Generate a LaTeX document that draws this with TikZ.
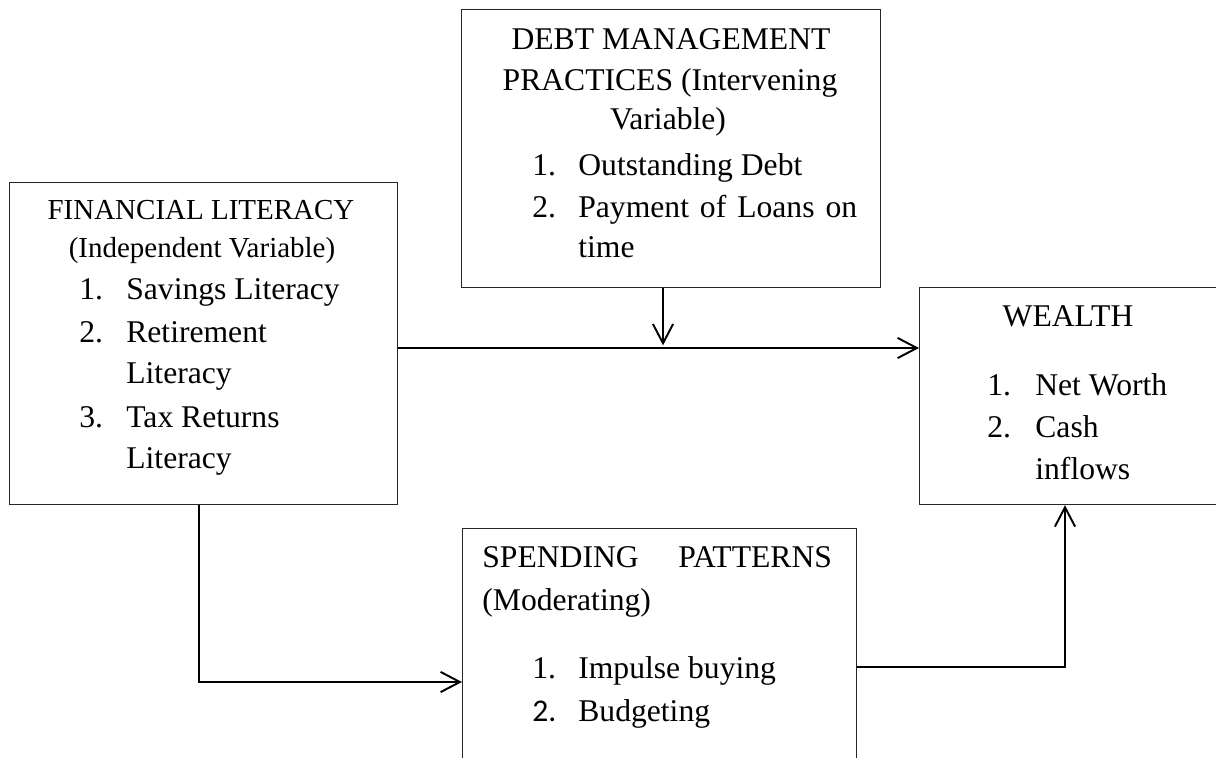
\documentclass[tikz,border=0pt]{standalone}
\usepackage{fontspec}
\setmainfont{Liberation Serif}
\newfontfamily\calibri{Carlito}
\usetikzlibrary{arrows.meta}

\tikzset{
  box/.style={draw=black!85, line width=0.7pt, rectangle, inner sep=0pt, anchor=north west},
  arr/.style={line width=1.1pt, -{Straight Barb[length=11pt,width=11.5pt]}},
  head/.style={anchor=base, inner sep=0pt},
  item/.style={anchor=base west, inner sep=0pt},
}

\begin{document}
\begin{tikzpicture}[x=0.02cm,y=-0.02cm,font=\fontsize{18}{22}\selectfont]
\useasboundingbox (0,0) rectangle (1216,757);
\clip (0,0) rectangle (1216,757);

% the four boxes
\node[box, minimum width=7.76cm, minimum height=6.44cm] (lit) at (9,182) {};
\node[box, minimum width=8.38cm, minimum height=5.56cm] (debt) at (461,9) {};
\node[box, minimum width=6.22cm, minimum height=4.34cm] (wealth) at (919,287) {};
\node[box, minimum width=7.88cm, minimum height=5.56cm] (spend) at (462,528) {};

% financial literacy
\node[head, font=\fontsize{16.5}{20}\selectfont] (lith1) at (201,219) {FINANCIAL LITERACY};
\node[head, font=\fontsize{16.5}{20}\selectfont] (lith2) at (202,257) {(Independent Variable)};
\node[item] (litn1) at (79,299) {1.};
\node[item] (litn2) at (79,342) {2.};
\node[item] (litn3) at (79,427) {3.};
\node[item] (litt1) at (126,299) {Savings Literacy};
\node[item] (litt2) at (126,342) {Retirement};
\node[item] (litt3) at (126,383) {Literacy};
\node[item] (litt4) at (126,427) {Tax Returns};
\node[item] (litt5) at (126,468) {Literacy};

% debt management
\node[head] (debth1) at (671,50) {DEBT MANAGEMENT};
\node[head] (debth2) at (670,91) {PRACTICES (Intervening};
\node[head] (debth3) at (668,130) {Variable)};
\node[item] (debtn1) at (532,175) {1.};
\node[item] (debtn2) at (532,217) {2.};
\node[item] (debtt1) at (578,175) {Outstanding Debt};
\node[item] (debtt2) at (578,217) {\makebox[158.7pt][s]{Payment of Loans on}};
\node[item] (debtt3) at (578,257) {time};

% wealth
\node[head] (wealthh) at (1068,326) {WEALTH};
\node[item] (wealthn1) at (987,395) {1.};
\node[item] (wealthn2) at (987,437) {2.};
\node[item] (wealtht1) at (1035,395) {Net Worth};
\node[item] (wealtht2) at (1035,437) {Cash};
\node[item] (wealtht3) at (1035,479) {inflows};

% spending patterns
\node[item] (spendh1) at (482,567) {\makebox[199pt][s]{SPENDING PATTERNS}};
\node[item] (spendh2) at (482,610) {(Moderating)};
\node[item] (spendn1) at (532,678) {1.};
\node[item] (spendn2) at (532,721) {{\calibri 2.}};
\node[item] (spendt1) at (578,678) {Impulse buying};
\node[item] (spendt2) at (578,721) {Budgeting};

% connectors
\coordinate (drop) at (663,348);
\coordinate (lowbend) at (199,682);
\coordinate (rise) at (1065,667);
\draw[arr] (lit.east |- drop) -- (drop -| wealth.west);
\draw[arr, shorten >=1.5pt] (debt.south -| drop) -- (drop);
\draw[arr] (lit.south -| lowbend) -- (lowbend) -- (lowbend -| spend.west);
\draw[arr] (spend.east |- rise) -- (rise) -- (rise |- wealth.south);
\end{tikzpicture}
\end{document}
